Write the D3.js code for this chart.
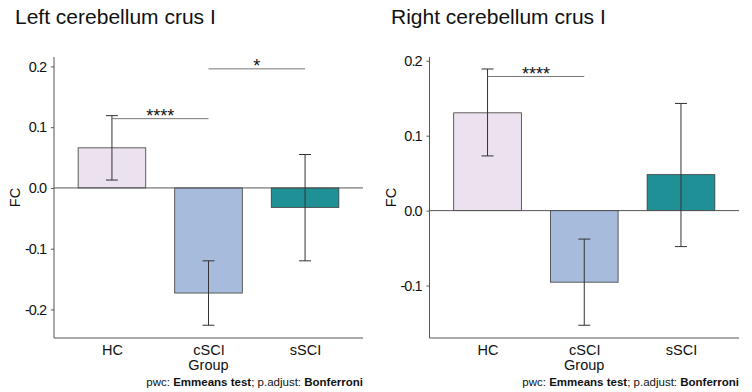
<!DOCTYPE html>
<html><head><meta charset="utf-8">
<script src="https://cdn.jsdelivr.net/npm/d3@7"></script>
<style>body{margin:0;background:#fff}</style>
</head><body>
<svg id="c" width="752" height="392"></svg>
<script>
const categories = ["HC", "cSCI", "sSCI"];
const colors = ["#ebe1ef", "#a7bcdd", "#1f9196"];
const yTicks = [-0.2, -0.1, 0.0, 0.1, 0.2];

const leftTitle = "Left cerebellum crus I";
const leftMean = [0.066, -0.173, -0.032];
const leftLow = [0.013, -0.226, -0.120];
const leftHigh = [0.119, -0.120, 0.055];
const leftDomain = [-0.247, 0.2155];
const leftSig = [{from: "HC", to: "cSCI", y: 0.114, label: "****"},
                 {from: "cSCI", to: "sSCI", y: 0.196, label: "*"}];

const rightTitle = "Right cerebellum crus I";
const rightMean = [0.1305, -0.0955, 0.048];
const rightLow = [0.073, -0.153, -0.048];
const rightHigh = [0.189, -0.038, 0.143];
const rightDomain = [-0.170, 0.205];
const rightSig = [{from: "HC", to: "cSCI", y: 0.179, label: "****"}];

const svg = d3.select("#c");
const FONT = "Liberation Sans, Arial, sans-serif";

function panel(o) {
  const g = svg.append("g");
  const x = d3.scalePoint().domain(categories).range([o.x0, o.x1]).padding(0.6);
  const step = x.step();
  const bw = step * 0.7;
  const y = d3.scaleLinear().domain(o.domain).range([o.yb, o.yt]);

  // title
  g.append("text").attr("x", o.tx).attr("y", 24).attr("font-family", FONT)
    .attr("font-size", 21).attr("fill", "#111").text(o.title);

  // bars
  categories.forEach((c, i) => {
    const v = o.mean[i];
    g.append("rect").attr("x", x(c) - bw / 2).attr("width", bw)
      .attr("y", Math.min(y(v), y(0))).attr("height", Math.abs(y(v) - y(0)))
      .attr("fill", colors[i]).attr("stroke", "#3a3a3a").attr("stroke-width", 0.8);
  });
  // zero line
  g.append("line").attr("x1", o.x0).attr("x2", o.x1).attr("y1", y(0)).attr("y2", y(0))
    .attr("stroke", "#555").attr("stroke-width", 1);
  // error bars
  categories.forEach((c, i) => {
    const cx = x(c), w = 6;
    const eg = g.append("g").attr("stroke", "#333").attr("stroke-width", 1);
    eg.append("line").attr("x1", cx).attr("x2", cx).attr("y1", y(o.low[i])).attr("y2", y(o.high[i]));
    eg.append("line").attr("x1", cx - w).attr("x2", cx + w).attr("y1", y(o.low[i])).attr("y2", y(o.low[i]));
    eg.append("line").attr("x1", cx - w).attr("x2", cx + w).attr("y1", y(o.high[i])).attr("y2", y(o.high[i]));
  });
  // significance
  o.sig.forEach(s => {
    g.append("line").attr("x1", x(s.from)).attr("x2", x(s.to)).attr("y1", y(s.y)).attr("y2", y(s.y))
      .attr("stroke", "#777").attr("stroke-width", 1);
    g.append("text").attr("x", (x(s.from) + x(s.to)) / 2).attr("y", y(s.y) + 3.5)
      .attr("text-anchor", "middle").attr("font-family", FONT).attr("font-size", 18)
      .attr("fill", "#111").text(s.label);
  });

  // y axis
  const ya = g.append("g").attr("transform", `translate(${o.x0},0)`)
    .call(d3.axisLeft(y).tickValues(yTicks.filter(t => t >= o.domain[0] && t <= o.domain[1]))
      .tickFormat(d3.format(".1f")).tickSize(3).tickPadding(5));
  ya.select(".domain").attr("stroke", "#555").attr("d", `M0,${o.yb}V${o.yt}`);
  ya.selectAll(".tick line").attr("stroke", "#555");
  ya.selectAll("text").attr("font-family", FONT).attr("font-size", 14.5).attr("fill", "#111")
    .attr("letter-spacing", "-1px")
    .text(d => d3.format(".1f")(d).replace("−", "-"));

  // x axis
  const xa = g.append("g").attr("transform", `translate(0,${o.yb})`)
    .call(d3.axisBottom(x).tickSize(0).tickPadding(7));
  xa.select(".domain").attr("stroke", "#555").attr("d", `M${o.x0},0H${o.x1}`);
  xa.selectAll("text").attr("font-family", FONT).attr("font-size", 14.5).attr("fill", "#111");

  // axis titles
  g.append("text").attr("x", x("cSCI")).attr("y", 370).attr("text-anchor", "middle")
    .attr("font-family", FONT).attr("font-size", 14.5).attr("fill", "#111").text("Group");
  g.append("text").attr("transform", `translate(${o.fx},${(o.yt + o.yb) / 2}) rotate(-90)`)
    .attr("text-anchor", "middle").attr("font-family", FONT).attr("font-size", 14.5)
    .attr("fill", "#111").text("FC");

  // caption
  const cap = g.append("text").attr("x", o.x1).attr("y", 386).attr("text-anchor", "end")
    .attr("font-family", FONT).attr("font-size", 11.5).attr("fill", "#111");
  cap.append("tspan").text("pwc: ");
  cap.append("tspan").attr("font-weight", "bold").text("Emmeans test");
  cap.append("tspan").text("; p.adjust: ");
  cap.append("tspan").attr("font-weight", "bold").text("Bonferroni");
}

panel({x0: 54, x1: 363, yt: 57, yb: 338, domain: leftDomain, title: leftTitle, tx: 15,
  fx: 20, mean: leftMean, low: leftLow, high: leftHigh, sig: leftSig});
panel({x0: 429.5, x1: 739, yt: 57, yb: 338, domain: rightDomain, title: rightTitle, tx: 391,
  fx: 396, mean: rightMean, low: rightLow, high: rightHigh, sig: rightSig});
</script>
</body></html>
